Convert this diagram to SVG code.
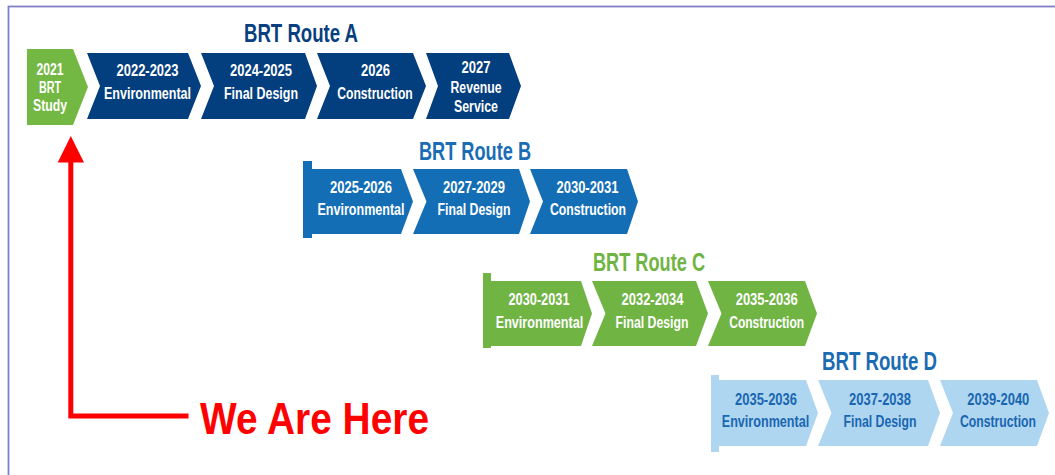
<svg xmlns="http://www.w3.org/2000/svg" width="1055" height="475" viewBox="0 0 1055 475">
<style>
text{font-family:"Liberation Sans Narrow","Liberation Sans",Arial,sans-serif;font-weight:bold;text-anchor:middle}
.t{font-size:16px;fill:#ffffff}
.td{font-size:16px;fill:#1a66b0}
.title{font-size:26px}
.navy{fill:#033e7e}
.blue{fill:#146eb6}
.green{fill:#70b443}
.lblue{fill:#aed6f1}
.study{fill:#74b844}
</style>
<rect x="8.5" y="6.5" width="1100" height="520" fill="#ffffff" stroke="#8080c8" stroke-width="1.8"/>

<g id="titles">
<text class="title" x="301" y="42" fill="#0a3f7f" textLength="114" lengthAdjust="spacingAndGlyphs">BRT Route A</text>
<text class="title" x="475" y="160" fill="#1a6db4" textLength="112" lengthAdjust="spacingAndGlyphs">BRT Route B</text>
<text class="title" x="649" y="271" fill="#70b443" textLength="112" lengthAdjust="spacingAndGlyphs">BRT Route C</text>
<text class="title" x="879.5" y="369.5" fill="#1a6bb3" textLength="115" lengthAdjust="spacingAndGlyphs">BRT Route D</text>
</g>

<g id="a0">
<polygon class="study" points="27,49 73,49 88,87 73,125 27,125"/>
<text class="t" x="50" y="75" textLength="27" lengthAdjust="spacingAndGlyphs">2021</text>
<text class="t" x="50" y="93" textLength="22" lengthAdjust="spacingAndGlyphs">BRT</text>
<text class="t" x="50" y="111" textLength="34" lengthAdjust="spacingAndGlyphs">Study</text>
</g>
<g id="a1">
<polygon class="navy" points="87,53 188,53 201,86 188,119 87,119 100,86"/>
<text class="t" x="147.5" y="76" textLength="62" lengthAdjust="spacingAndGlyphs">2022-2023</text>
<text class="t" x="147.5" y="98.5" textLength="87" lengthAdjust="spacingAndGlyphs">Environmental</text>
</g>
<g id="a2">
<polygon class="navy" points="201,53 305,53 317,86 305,119 201,119 214,86"/>
<text class="t" x="261" y="76" textLength="62" lengthAdjust="spacingAndGlyphs">2024-2025</text>
<text class="t" x="261" y="98.5" textLength="74" lengthAdjust="spacingAndGlyphs">Final Design</text>
</g>
<g id="a3">
<polygon class="navy" points="317,53 413,53 426,86 413,119 317,119 330,86"/>
<text class="t" x="375.5" y="76" textLength="29" lengthAdjust="spacingAndGlyphs">2026</text>
<text class="t" x="375" y="98.5" textLength="75.5" lengthAdjust="spacingAndGlyphs">Construction</text>
</g>
<g id="a4">
<polygon class="navy" points="426,53 509,53 521,86 509,119 426,119 438,86"/>
<text class="t" x="476" y="72.5" textLength="29" lengthAdjust="spacingAndGlyphs">2027</text>
<text class="t" x="476" y="92.5" textLength="51" lengthAdjust="spacingAndGlyphs">Revenue</text>
<text class="t" x="476" y="111.5" textLength="44" lengthAdjust="spacingAndGlyphs">Service</text>
</g>

<g id="b1">
<polygon class="blue" points="303,161 312,161 312,169 401,169 413,201.5 401,234 312,234 312,238 303,238"/>
<text class="t" x="361" y="192.5" textLength="62" lengthAdjust="spacingAndGlyphs">2025-2026</text>
<text class="t" x="361" y="215" textLength="87" lengthAdjust="spacingAndGlyphs">Environmental</text>
</g>
<g id="b2">
<polygon class="blue" points="413,169 519,169 530,201.5 519,234 413,234 426.5,201.5"/>
<text class="t" x="474" y="192.5" textLength="62" lengthAdjust="spacingAndGlyphs">2027-2029</text>
<text class="t" x="474" y="215" textLength="73" lengthAdjust="spacingAndGlyphs">Final Design</text>
</g>
<g id="b3">
<polygon class="blue" points="530,169 627,169 638,201.5 627,234 530,234 543,201.5"/>
<text class="t" x="587.5" y="192.5" textLength="62" lengthAdjust="spacingAndGlyphs">2030-2031</text>
<text class="t" x="588" y="215" textLength="76" lengthAdjust="spacingAndGlyphs">Construction</text>
</g>

<g id="c1">
<polygon class="green" points="483,273 491,273 491,281 581,281 592,313.5 581,346 491,346 491,348 483,348"/>
<text class="t" x="539" y="304.5" textLength="61" lengthAdjust="spacingAndGlyphs">2030-2031</text>
<text class="t" x="539.5" y="327.5" textLength="87.5" lengthAdjust="spacingAndGlyphs">Environmental</text>
</g>
<g id="c2">
<polygon class="green" points="592,281 696,281 708,313.5 696,346 592,346 605.5,313.5"/>
<text class="t" x="652.5" y="304.5" textLength="62" lengthAdjust="spacingAndGlyphs">2032-2034</text>
<text class="t" x="652" y="327.5" textLength="73" lengthAdjust="spacingAndGlyphs">Final Design</text>
</g>
<g id="c3">
<polygon class="green" points="708,281 805,281 817,313.5 805,346 708,346 721.5,313.5"/>
<text class="t" x="766.7" y="304.5" textLength="62" lengthAdjust="spacingAndGlyphs">2035-2036</text>
<text class="t" x="766.7" y="327.5" textLength="75" lengthAdjust="spacingAndGlyphs">Construction</text>
</g>

<g id="d1">
<polygon class="lblue" points="711,375 719,375 719,380 806,380 818,413 806,446 719,446 719,452 711,452"/>
<text class="td" x="766" y="404.5" textLength="62" lengthAdjust="spacingAndGlyphs">2035-2036</text>
<text class="td" x="765.5" y="427" textLength="87.5" lengthAdjust="spacingAndGlyphs">Environmental</text>
</g>
<g id="d2">
<polygon class="lblue" points="818,380 928,380 940,413 928,446 818,446 831.5,413"/>
<text class="td" x="880" y="404.5" textLength="62" lengthAdjust="spacingAndGlyphs">2037-2038</text>
<text class="td" x="880" y="427" textLength="73" lengthAdjust="spacingAndGlyphs">Final Design</text>
</g>
<g id="d3">
<polygon class="lblue" points="940,380 1037,380 1049,413 1037,446 940,446 953,413"/>
<text class="td" x="998.3" y="404.5" textLength="62" lengthAdjust="spacingAndGlyphs">2039-2040</text>
<text class="td" x="998" y="427" textLength="76" lengthAdjust="spacingAndGlyphs">Construction</text>
</g>

<g id="connectors">
<path d="M70.8,160 V416 H188.5" fill="none" stroke="#ff0000" stroke-width="5"/>
<polygon points="70.8,136 57.7,162.5 84,162.5" fill="#ff0000"/>
</g>
<g id="here">
<text x="314.5" y="434.3" font-size="45" fill="#ff0000" textLength="229" lengthAdjust="spacingAndGlyphs">We Are Here</text>
</g>
</svg>
